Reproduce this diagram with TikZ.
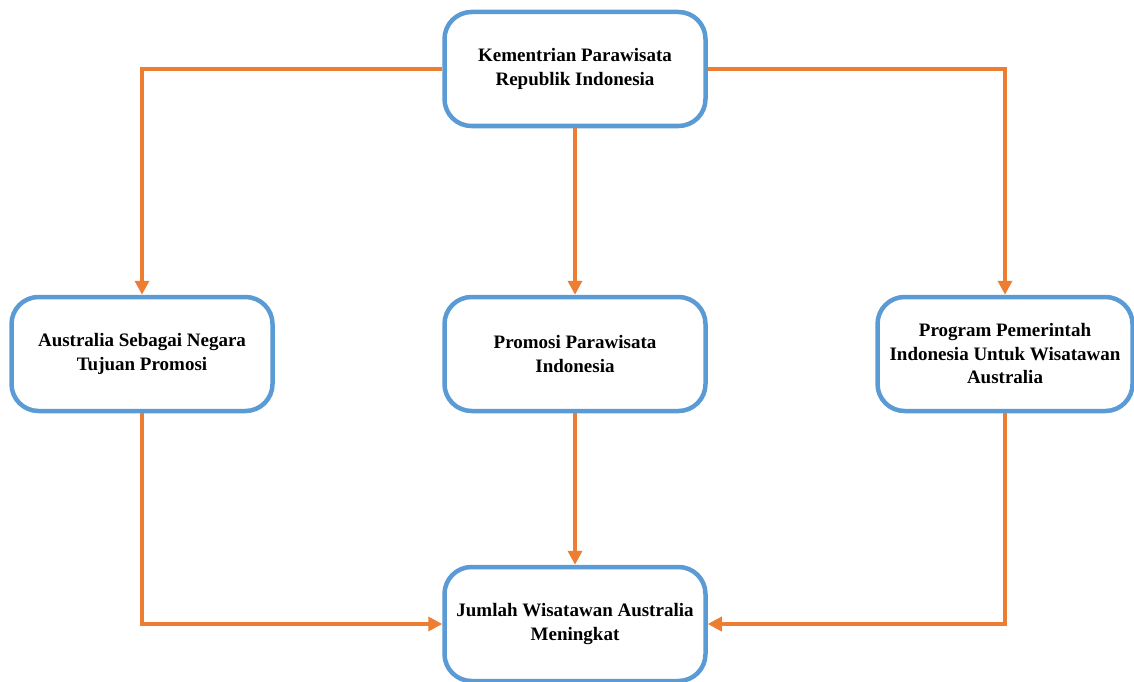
\documentclass[tikz,border=0pt]{standalone}
\usepackage{fontspec}
\setmainfont{Liberation Serif}
\usetikzlibrary{arrows.meta}
\definecolor{boxblue}{HTML}{5B9BD5}
\definecolor{arrorange}{HTML}{ED7D31}
\begin{document}
\begin{tikzpicture}[x=1pt,y=-1pt,
  stepbox/.style={draw=boxblue,line width=4.5pt,rounded corners=27pt,fill=white,
    minimum width=#1,minimum height=114pt,align=center,inner sep=0pt,
    font=\fontsize{19}{23.5}\selectfont\bfseries},
  stepbox/.default=261pt,
  conn/.style={draw=arrorange,line width=3.6pt,
    -{Triangle[length=14pt,width=14pt]}}]
\useasboundingbox (0,0) rectangle (1134,682);
\node[stepbox] (top) at (575,69) {Kementrian Parawisata\\Republik Indonesia};
\node[stepbox] (left) at (142,354) {Australia Sebagai Negara\\Tujuan Promosi};
\node[stepbox] (mid) at (575,354) {Promosi Parawisata\\Indonesia};
\node[stepbox=255pt] (right) at (1005,354) {Program Pemerintah\\Indonesia Untuk Wisatawan\\Australia};
\node[stepbox] (bot) at (575,624) {Jumlah Wisatawan Australia\\Meningkat};
\draw[conn] (top.west) -| (left.north);
\draw[conn] (top.east) -| (right.north);
\draw[conn] (top.south) -- (mid.north);
\draw[conn] (mid.south) -- (bot.north);
\draw[conn] (left.south) |- (bot.west);
\draw[conn] (right.south) |- (bot.east);
\end{tikzpicture}
\end{document}
